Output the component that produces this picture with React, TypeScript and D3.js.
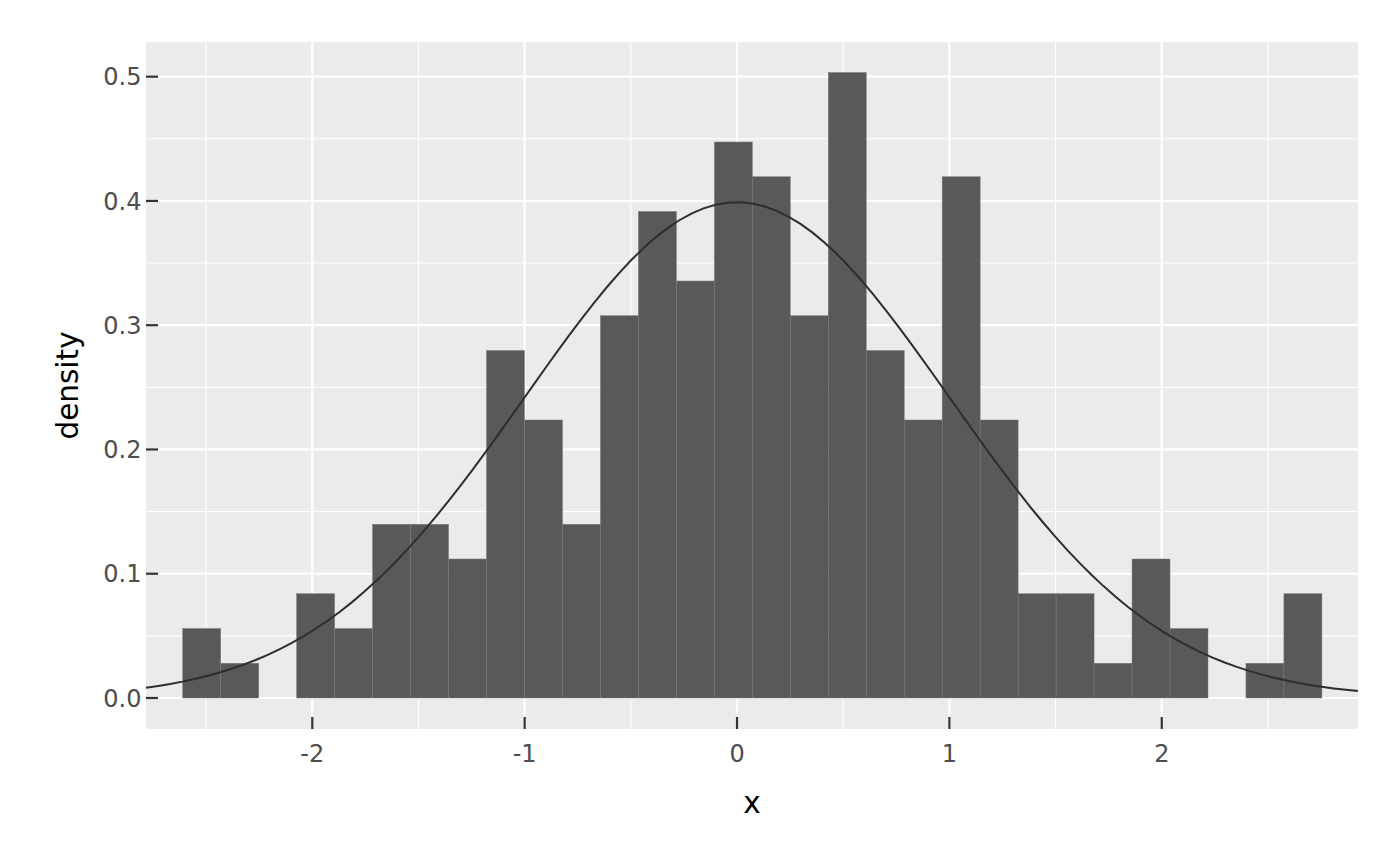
import React from "react";
import * as d3 from "d3";

// histogram counts (30 bins, n = 200)
const counts = [
  2, 1, 0, 3, 2, 5, 5, 4, 10, 8, 5, 11, 14, 12, 16, 15, 11, 18, 10, 8, 15, 8,
  3, 3, 1, 4, 2, 0, 1, 3,
];
const binStart = -2.61;
const binWidth = 0.1788;

// reference normal curve
const curveMean = 0;
const curveSd = 1;

const xDomain: [number, number] = [-2.783, 2.924];
const yDomain: [number, number] = [-0.02495, 0.5279];
const xMajor = [-2, -1, 0, 1, 2];
const xMinor = [-2.5, -1.5, -0.5, 0.5, 1.5, 2.5];
const yMajor = [0, 0.1, 0.2, 0.3, 0.4, 0.5];
const yMinor = [0.05, 0.15, 0.25, 0.35, 0.45];

const W = 1400;
const H = 866;
const panel = { left: 146, right: 1358, top: 42, bottom: 729 };
const font = "'DejaVu Sans', sans-serif";

export default function App() {
  const total = d3.sum(counts);
  const bins = counts.map((c, i) => ({
    x0: binStart + i * binWidth,
    x1: binStart + (i + 1) * binWidth,
    density: c / (total * binWidth),
  }));

  const x = d3.scaleLinear().domain(xDomain).range([panel.left, panel.right]);
  const y = d3.scaleLinear().domain(yDomain).range([panel.bottom, panel.top]);

  const dnorm = (v: number) =>
    Math.exp(-0.5 * ((v - curveMean) / curveSd) ** 2) /
    (curveSd * Math.sqrt(2 * Math.PI));
  const curveX = d3.range(101).map(
    (i) => xDomain[0] + ((xDomain[1] - xDomain[0]) * i) / 100
  );
  const line = d3
    .line<number>()
    .x((d) => x(d))
    .y((d) => y(dnorm(d)));

  return (
    <div style={{ position: "absolute", left: 0, top: 0 }}>
      <svg width={W} height={H} style={{ display: "block", background: "#fff" }}>
        <rect
          x={panel.left}
          y={panel.top}
          width={panel.right - panel.left}
          height={panel.bottom - panel.top}
          fill="#ebebeb"
        />
        {/* minor grid */}
        {xMinor.map((v) => (
          <line key={"xm" + v} x1={x(v)} x2={x(v)} y1={panel.top} y2={panel.bottom} stroke="#fff" strokeWidth={1.1} />
        ))}
        {yMinor.map((v) => (
          <line key={"ym" + v} x1={panel.left} x2={panel.right} y1={y(v)} y2={y(v)} stroke="#fff" strokeWidth={1.1} />
        ))}
        {/* major grid */}
        {xMajor.map((v) => (
          <line key={"xM" + v} x1={x(v)} x2={x(v)} y1={panel.top} y2={panel.bottom} stroke="#fff" strokeWidth={2.2} />
        ))}
        {yMajor.map((v) => (
          <line key={"yM" + v} x1={panel.left} x2={panel.right} y1={y(v)} y2={y(v)} stroke="#fff" strokeWidth={2.2} />
        ))}

        {/* bars */}
        {bins
          .filter((b) => b.density > 0)
          .map((b, i) => (
            <rect
              key={i}
              x={x(b.x0)}
              y={y(b.density)}
              width={x(b.x1) - x(b.x0)}
              height={y(0) - y(b.density)}
              fill="#595959"
              stroke="#7a7a7a"
              strokeWidth={0.5}
            />
          ))}

        {/* normal curve */}
        <path d={line(curveX) || ""} fill="none" stroke="#2e2e2e" strokeWidth={2} />

        {/* ticks */}
        {yMajor.map((v) => (
          <line key={"yt" + v} x1={panel.left} x2={panel.left + 12} y1={y(v)} y2={y(v)} stroke="#333" strokeWidth={2.2} />
        ))}
        {xMajor.map((v) => (
          <line key={"xt" + v} x1={x(v)} x2={x(v)} y1={panel.bottom - 12} y2={panel.bottom} stroke="#333" strokeWidth={2.2} />
        ))}

        {/* tick labels */}
        {yMajor.map((v) => (
          <text
            key={"yl" + v}
            x={panel.left - 4.5}
            y={y(v) + 8.7}
            textAnchor="end"
            fontFamily={font}
            fontSize={24}
            fill="#4d4d4d"
          >
            {d3.format(".1f")(v)}
          </text>
        ))}
        {xMajor.map((v) => (
          <text
            key={"xl" + v}
            x={x(v)}
            y={761.5}
            textAnchor="middle"
            fontFamily={font}
            fontSize={24}
            fill="#4d4d4d"
          >
            {String(v)}
          </text>
        ))}

        {/* axis titles */}
        <text
          x={(panel.left + panel.right) / 2}
          y={812.5}
          textAnchor="middle"
          fontFamily={font}
          fontSize={29.5}
          fill="#000"
        >
          x
        </text>
        <text
          transform={`translate(78,${(panel.top + panel.bottom) / 2}) rotate(-90)`}
          textAnchor="middle"
          fontFamily={font}
          fontSize={29.5}
          fill="#000"
        >
          density
        </text>
      </svg>
    </div>
  );
}
